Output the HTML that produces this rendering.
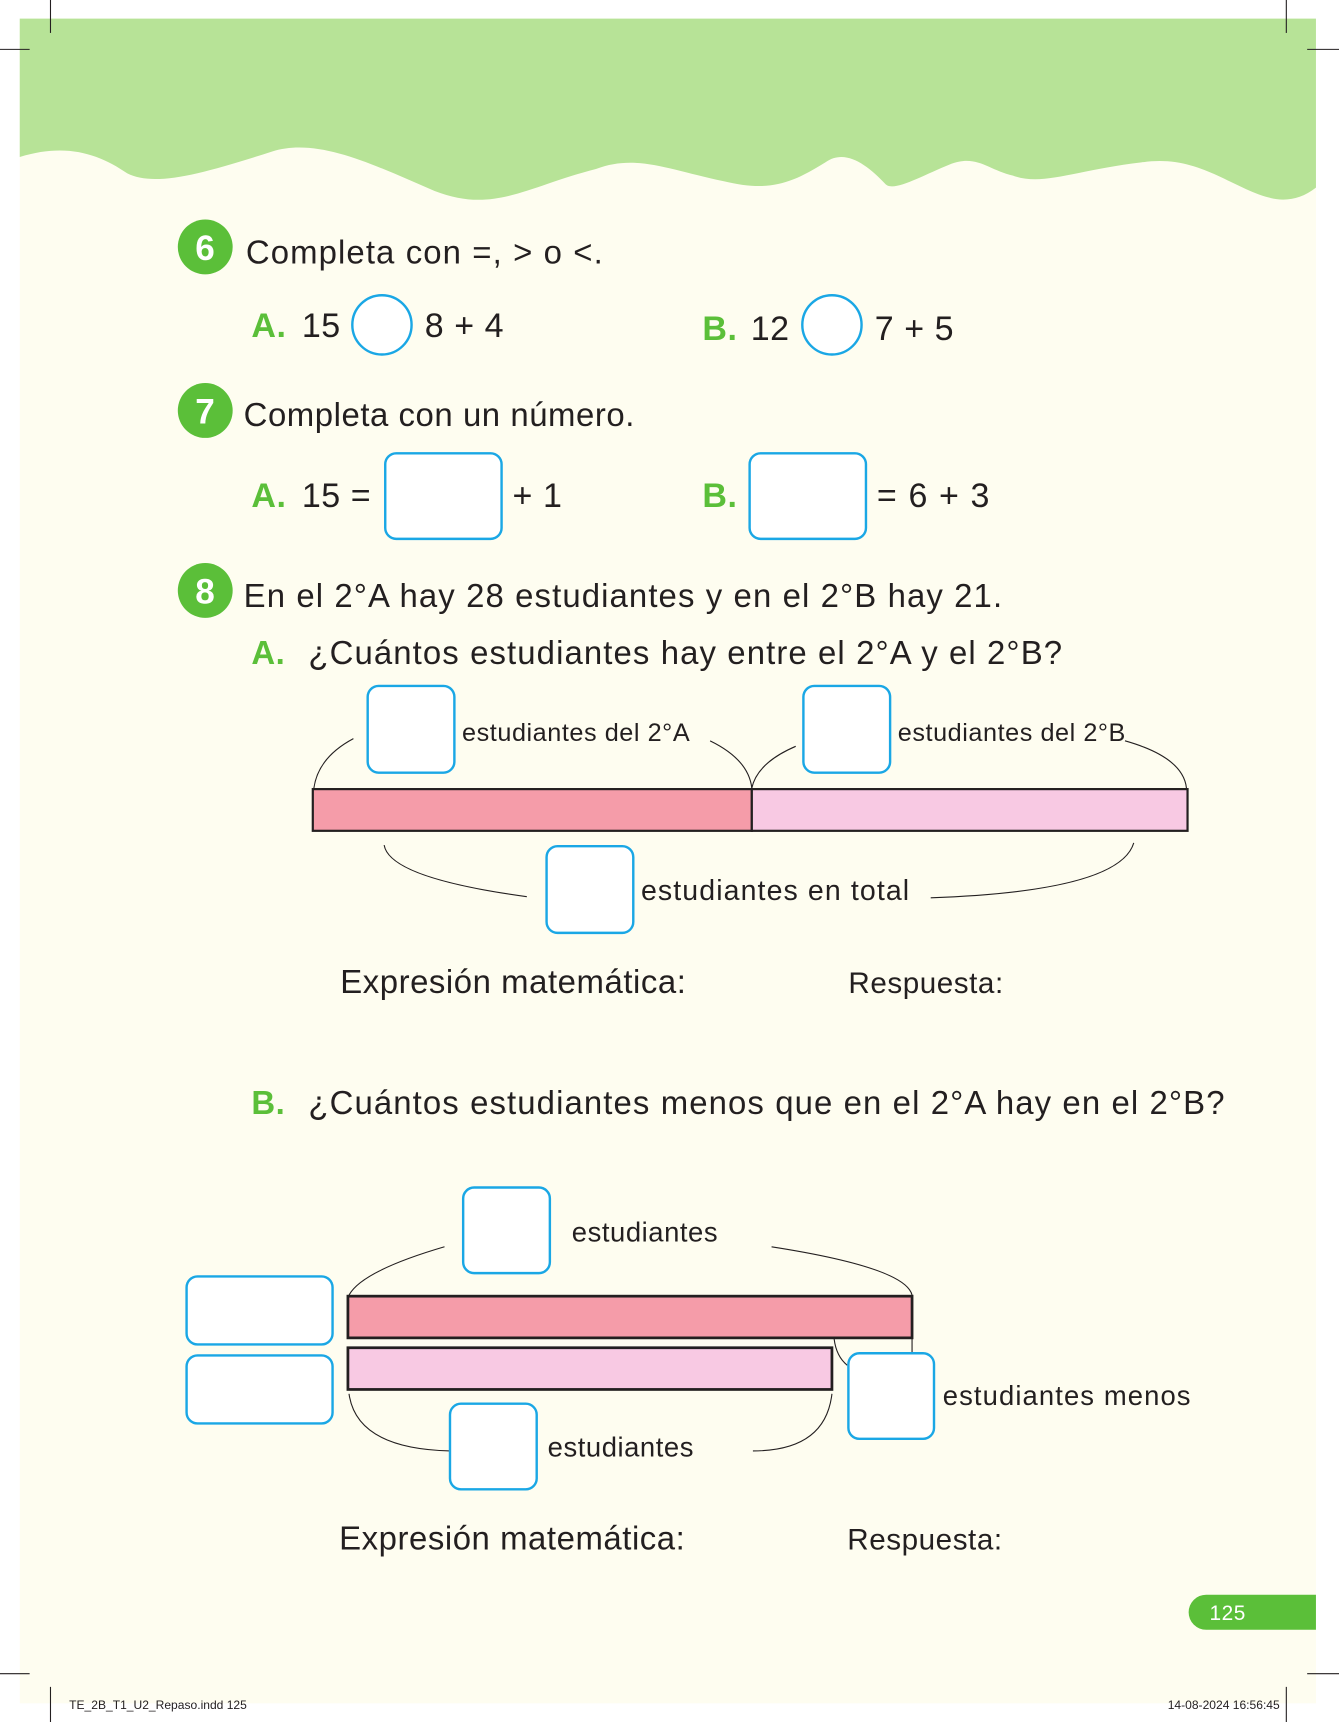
<!DOCTYPE html>
<html><head><meta charset="utf-8"><style>
html,body{margin:0;padding:0;background:#fff}
svg{display:block}
text{font-family:"Liberation Sans",sans-serif;fill:#231f20;letter-spacing:0.5px}
.g{fill:#5bbf39;font-weight:bold}
.bx{fill:#fff;stroke:#1aa7e5;stroke-width:2.2}
.cv{fill:none;stroke:#231f20;stroke-width:1}
</style></head><body>
<svg width="1339" height="1722" viewBox="0 0 1220 1569" preserveAspectRatio="none">
<rect x="0" y="0" width="1220" height="1569" fill="#fff"/>
<rect x="18" y="17" width="1181" height="1535" fill="#fefdf0"/>
<path d="M18,17 H1199 V171 C1185,182 1170,184 1156,180 C1120,170 1090,140 1040,148 C980,155 950,170 923,160 C900,155 890,140 865,150 C840,160 815,175 807,168 C790,150 770,135 752,148 C720,168 700,175 659,165 C610,155 580,140 543,154 C480,170 450,195 396,174 C340,150 290,125 248,138 C180,160 140,170 116,158 C90,140 60,130 18,143 Z" fill="#b7e397"/>
<g stroke="#231f20" stroke-width="1">
<line x1="46" y1="0" x2="46" y2="30"/><line x1="1172" y1="0" x2="1172" y2="30"/>
<line x1="0" y1="45" x2="27" y2="45"/><line x1="1191" y1="45" x2="1220" y2="45"/>
<line x1="0" y1="1525" x2="27" y2="1525"/><line x1="1191" y1="1525" x2="1220" y2="1525"/>
<line x1="46" y1="1537" x2="46" y2="1569"/><line x1="1172" y1="1537" x2="1172" y2="1569"/>
</g>

<!-- Q6 -->
<circle cx="187" cy="225" r="25" fill="#5bbf39"/>
<text x="187" y="237" text-anchor="middle" font-size="32" font-weight="bold" style="fill:#fff">6</text>
<text x="224" y="240" font-size="30" style="letter-spacing:1px">Completa con =, &gt; o &lt;.</text>
<text x="229" y="307" font-size="31" class="g">A.</text>
<text x="275" y="307" font-size="31">15</text>
<circle cx="348" cy="296" r="27" class="bx"/>
<text x="387" y="307" font-size="31">8 + 4</text>
<text x="640" y="310" font-size="31" class="g">B.</text>
<text x="684" y="310" font-size="31">12</text>
<circle cx="758" cy="296" r="27" class="bx"/>
<text x="797" y="310" font-size="31">7 + 5</text>

<!-- Q7 -->
<circle cx="187" cy="374" r="25" fill="#5bbf39"/>
<text x="187" y="386" text-anchor="middle" font-size="32" font-weight="bold" style="fill:#fff">7</text>
<text x="222" y="388" font-size="30">Completa con un número.</text>
<text x="229" y="462" font-size="31" class="g">A.</text>
<text x="275" y="462" font-size="31">15 =</text>
<rect x="351" y="413" width="106" height="78" rx="10" class="bx"/>
<text x="467" y="462" font-size="31">+ 1</text>
<text x="640" y="462" font-size="31" class="g">B.</text>
<rect x="683" y="413" width="106" height="78" rx="10" class="bx"/>
<text x="799" y="462" font-size="31" style="letter-spacing:1px">= 6 + 3</text>

<!-- Q8 -->
<circle cx="187" cy="538" r="25" fill="#5bbf39"/>
<text x="187" y="550" text-anchor="middle" font-size="32" font-weight="bold" style="fill:#fff">8</text>
<text x="222" y="553" font-size="30" style="letter-spacing:1px">En el 2°A hay 28 estudiantes y en el 2°B hay 21.</text>
<text x="229" y="605" font-size="30" class="g">A.</text>
<text x="281" y="605" font-size="30" style="letter-spacing:1px">¿Cuántos estudiantes hay entre el 2°A y el 2°B?</text>

<path class="cv" d="M322,673 Q290,690 286,718"/>
<path class="cv" d="M647,675 Q682,692 685,718"/>
<path class="cv" d="M725,680 Q690,695 685,718"/>
<path class="cv" d="M1025,675 Q1078,690 1081,718"/>
<rect x="285" y="719" width="400" height="38" fill="#f59ca9" stroke="#231f20" stroke-width="2"/>
<rect x="685" y="719" width="397" height="38" fill="#f8c9e3" stroke="#231f20" stroke-width="2"/>
<path class="cv" d="M350,770 Q355,800 480,817"/>
<path class="cv" d="M848,818 Q1020,812 1033,768"/>
<rect x="335" y="625" width="79" height="79" rx="10" class="bx"/>
<rect x="732" y="625" width="79" height="79" rx="10" class="bx"/>
<rect x="498" y="771" width="79" height="79" rx="10" class="bx"/>
<text x="421" y="675" font-size="23">estudiantes del 2°A</text>
<text x="818" y="675" font-size="23">estudiantes del 2°B</text>
<text x="584" y="820" font-size="26" style="letter-spacing:1px">estudiantes en total</text>
<text x="310" y="905" font-size="30">Expresión matemática:</text>
<text x="773" y="905" font-size="27">Respuesta:</text>

<text x="229" y="1015" font-size="30" class="g">B.</text>
<text x="281" y="1015" font-size="30" style="letter-spacing:1px">¿Cuántos estudiantes menos que en el 2°A hay en el 2°B?</text>

<path class="cv" d="M405,1136 Q330,1158 318,1180"/>
<path class="cv" d="M703,1136 Q825,1155 831,1180"/>
<path class="cv" d="M318,1270 Q325,1320 410,1322"/>
<path class="cv" d="M686,1322 Q752,1322 758,1270"/>
<path class="cv" d="M760,1220 Q762,1236 772,1244"/>
<path class="cv" d="M831,1220 L831,1234"/>
<rect x="317" y="1181" width="514" height="38" fill="#f59ca9" stroke="#231f20" stroke-width="2.5"/>
<rect x="317" y="1228" width="441" height="38" fill="#f8c9e3" stroke="#231f20" stroke-width="2.5"/>
<rect x="422" y="1082" width="79" height="78" rx="10" class="bx"/>
<rect x="170" y="1163" width="133" height="62" rx="10" class="bx"/>
<rect x="170" y="1235" width="133" height="62" rx="10" class="bx"/>
<rect x="773" y="1233" width="78" height="78" rx="10" class="bx"/>
<rect x="410" y="1279" width="79" height="78" rx="10" class="bx"/>
<text x="521" y="1131" font-size="25">estudiantes</text>
<text x="859" y="1280" font-size="25" style="letter-spacing:1px">estudiantes menos</text>
<text x="499" y="1327" font-size="25">estudiantes</text>
<text x="309" y="1412" font-size="30">Expresión matemática:</text>
<text x="772" y="1412" font-size="27">Respuesta:</text>

<path d="M1099,1453 H1199 V1485 H1099 A16,16 0 0 1 1099,1453 Z" fill="#5bbf39"/>
<text x="1102" y="1476" font-size="19" style="fill:#fff">125</text>
<text x="63" y="1557" font-size="11" style="letter-spacing:0">TE_2B_T1_U2_Repaso.indd   125</text>
<text x="1166" y="1557" font-size="11" text-anchor="end" style="letter-spacing:0">14-08-2024   16:56:45</text>
</svg>
</body></html>
